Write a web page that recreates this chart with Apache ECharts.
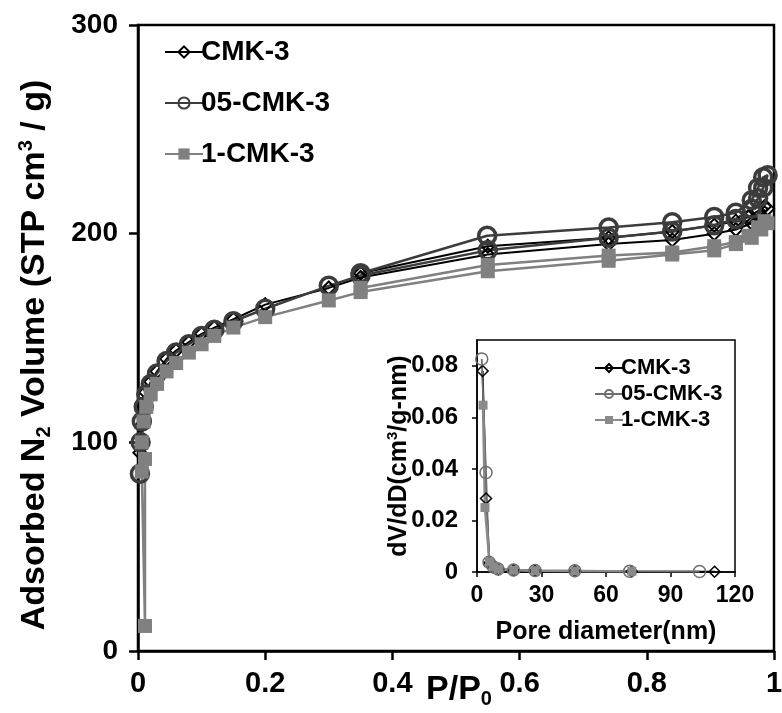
<!DOCTYPE html>
<html>
<head>
<meta charset="utf-8">
<script src="https://cdn.jsdelivr.net/npm/echarts@6/dist/echarts.min.js"></script>
<style>
  html, body { margin: 0; padding: 0; background: #fff; }
  #chart { width: 782px; height: 713px; }
</style>
</head>
<body>
<div id="chart"></div>
<script>
// Sample names
const sampleNames = ['CMK-3', '05-CMK-3', '1-CMK-3'];

// N2 isotherms: [P/P0, adsorbed volume]; adsorption branch then desorption branch
const isoCMK3 = [
  [0.003, 95], [0.005, 108], [0.008, 118], [0.012, 124], [0.02, 129], [0.03, 134],
  [0.045, 140], [0.06, 144], [0.08, 148], [0.1, 152], [0.12, 155], [0.15, 159],
  [0.2, 166], [0.3, 174], [0.35, 179], [0.55, 190], [0.74, 195], [0.84, 197],
  [0.906, 200], [0.94, 202], [0.965, 205], [0.98, 208], [0.99, 212],
  [0.985, 213], [0.975, 211], [0.96, 208], [0.94, 206], [0.906, 204], [0.84, 201],
  [0.74, 198], [0.55, 194], [0.35, 181]
];
const iso05 = [
  [0.003, 85], [0.004, 100], [0.006, 110], [0.009, 117], [0.013, 123], [0.02, 128],
  [0.03, 133], [0.045, 139], [0.06, 143], [0.08, 147], [0.1, 151], [0.12, 154],
  [0.15, 158], [0.2, 164], [0.3, 175], [0.35, 180], [0.55, 192], [0.74, 198],
  [0.84, 201], [0.906, 204], [0.94, 207], [0.965, 212], [0.975, 217], [0.983, 222],
  [0.99, 228], [0.983, 227], [0.975, 222], [0.965, 216], [0.94, 210], [0.906, 208],
  [0.84, 205.5], [0.74, 203], [0.549, 199], [0.35, 181]
];
const iso1 = [
  [0.006, 86], [0.011, 12], [0.011, 92], [0.006, 100], [0.009, 110], [0.013, 117],
  [0.02, 123], [0.03, 128], [0.045, 134], [0.06, 138], [0.08, 143], [0.1, 147],
  [0.12, 151], [0.15, 155], [0.2, 160], [0.3, 168], [0.35, 172], [0.55, 182],
  [0.74, 187], [0.84, 190], [0.906, 192], [0.94, 195], [0.965, 198], [0.98, 202],
  [0.99, 205], [0.985, 206], [0.975, 203], [0.96, 199], [0.94, 196], [0.906, 194],
  [0.84, 191], [0.74, 189.5], [0.55, 185], [0.35, 174]
];

// Pore size distributions: [pore diameter (nm), dV/dD]
const psdCMK3 = [
  [2.6, 0.078], [4.2, 0.0285], [5.8, 0.0035], [7.5, 0.0018], [10, 0.001],
  [17, 0.0007], [27, 0.0005], [45.5, 0.0004], [72, 0.0002], [110.5, 0.0001]
];
const psd05 = [
  [2.2, 0.0826], [4.2, 0.0386], [5.6, 0.0038], [7.5, 0.002], [9.8, 0.0012],
  [17, 0.0008], [27, 0.0006], [45.5, 0.0005], [71, 0.0003], [103.5, 0.0002]
];
const psd1 = [
  [2.8, 0.0647], [3.7, 0.025], [5.8, 0.004], [7.5, 0.002], [10, 0.0011],
  [17, 0.0007], [27, 0.0005], [45.5, 0.0004], [72, 0.0003]
];

// Axis ranges
const mainX = { min: 0, max: 1, interval: 0.2 };
const mainY = { min: 0, max: 300, interval: 100 };
const insetX = { min: 0, max: 120, interval: 30 };
const insetY = { min: 0, max: 0.09, interval: 0.02 };

const FONT = "'Liberation Sans', Arial, Helvetica, sans-serif";
const insetPrefix = 'psd:';
const CLEAR = 'rgba(255,255,255,0)';

const chart = echarts.init(document.getElementById('chart'), null, { renderer: 'canvas' });

function axisCommon(fontSize, margin, lineW, tickLen) {
  return {
    axisLine: { show: true, onZero: false, lineStyle: { color: '#000', width: lineW } },
    axisTick: { show: true, inside: false, length: tickLen, lineStyle: { color: '#000', width: lineW } },
    axisLabel: { color: '#000', fontFamily: FONT, fontWeight: 'bold', fontSize: fontSize, margin: margin },
    splitLine: { show: false },
    nameMoveOverlap: false
  };
}

const mainStyles = [
  { color: '#000000', symbol: 'diamond', fill: CLEAR, size: 13, lw: 2, bw: 2 },
  { color: '#3c3c3c', symbol: 'circle', fill: CLEAR, size: 17, lw: 2.5, bw: 3.5 },
  { color: '#808080', symbol: 'rect', fill: '#808080', size: 14, lw: 2.5, bw: 0 }
];
const insetStyles = [
  { color: '#000000', symbol: 'diamond', fill: CLEAR, size: 11, lw: 2, bw: 1.5 },
  { color: '#6e6e6e', symbol: 'circle', fill: CLEAR, size: 12, lw: 1.8, bw: 1.5 },
  { color: '#8a8a8a', symbol: 'rect', fill: '#8a8a8a', size: 9, lw: 2.5, bw: 0 }
];

function makeSeries(name, data, st, axisIdx) {
  return {
    name: name,
    type: 'line',
    xAxisIndex: axisIdx,
    yAxisIndex: axisIdx,
    data: data,
    symbol: st.symbol,
    symbolSize: st.size,
    showAllSymbol: true,
    smooth: false,
    clip: true,
    animation: false,
    color: st.color,
    lineStyle: { color: st.color, width: st.lw },
    itemStyle: { color: st.fill, borderColor: st.color, borderWidth: st.bw },
    emphasis: { disabled: true }
  };
}

const isoData = [isoCMK3, iso05, iso1];
const psdData = [psdCMK3, psd05, psd1];

const series = [];
sampleNames.forEach((n, i) => series.push(makeSeries(n, isoData[i], mainStyles[i], 0)));
sampleNames.forEach((n, i) => series.push(makeSeries(insetPrefix + n, psdData[i], insetStyles[i], 1)));

const option = {
  animation: false,
  backgroundColor: '#fff',
  grid: [
    { left: 138, right: 8, top: 25, bottom: 62, containLabel: false, outerBoundsMode: 'none',
      show: true, borderColor: '#000', borderWidth: 2.5, backgroundColor: 'transparent' },
    { left: 477, top: 340, width: 258, height: 232, containLabel: false, outerBoundsMode: 'none',
      show: true, borderColor: '#000', borderWidth: 1.5, backgroundColor: '#fff' }
  ],
  legend: [
    {
      data: sampleNames,
      orient: 'vertical',
      left: 159, top: 33,
      itemWidth: 38, itemHeight: 14, itemGap: 23,
      selectedMode: false,
      textStyle: { color: '#000', fontFamily: FONT, fontWeight: 'bold', fontSize: 28, padding: [0, 0, 0, -7] }
    },
    {
      data: sampleNames.map(n => insetPrefix + n),
      formatter: name => name.slice(insetPrefix.length),
      orient: 'vertical',
      left: 589, top: 352,
      itemWidth: 28, itemHeight: 10, itemGap: 4,
      selectedMode: false,
      textStyle: { color: '#000', fontFamily: FONT, fontWeight: 'bold', fontSize: 22, padding: [0, 0, 0, -7] }
    }
  ],
  xAxis: [
    Object.assign(axisCommon(29, 18, 2.5, 9), {
      type: 'value', gridIndex: 0,
      min: mainX.min, max: mainX.max, interval: mainX.interval,
      name: '{a|P/P}{s|0}',
      nameLocation: 'middle', nameGap: 20,
      nameTextStyle: {
        padding: [0, 0, 0, 6],
        rich: {
          a: { fontFamily: FONT, fontWeight: 'bold', fontSize: 34, lineHeight: 38, color: '#000' },
          s: { fontFamily: FONT, fontWeight: 'bold', fontSize: 20, lineHeight: 20, verticalAlign: 'bottom', color: '#000' }
        }
      }
    }),
    Object.assign(axisCommon(23, 12, 1.5, 5), {
      type: 'value', gridIndex: 1,
      min: insetX.min, max: insetX.max, interval: insetX.interval,
      name: 'Pore diameter(nm)',
      nameLocation: 'middle', nameGap: 48,
      nameTextStyle: { color: '#000', fontFamily: FONT, fontWeight: 'bold', fontSize: 25 }
    })
  ],
  yAxis: [
    Object.assign(axisCommon(28, 20, 2.5, 9), {
      type: 'value', gridIndex: 0,
      min: mainY.min, max: mainY.max, interval: mainY.interval,
      name: '{a|Adsorbed N}{s|2}{a| Volume (STP cm}{p|3}{a| / g)}',
      nameLocation: 'middle', nameGap: 84,
      nameTextStyle: {
        padding: [0, 34, 0, 0],
        rich: {
          a: { fontFamily: FONT, fontWeight: 'bold', fontSize: 34, lineHeight: 38, color: '#000' },
          s: { fontFamily: FONT, fontWeight: 'bold', fontSize: 20, lineHeight: 20, verticalAlign: 'bottom', color: '#000' },
          p: { fontFamily: FONT, fontWeight: 'bold', fontSize: 20, lineHeight: 20, verticalAlign: 'top', color: '#000' }
        }
      }
    }),
    Object.assign(axisCommon(24, 19, 1.5, 5), {
      type: 'value', gridIndex: 1,
      min: insetY.min, max: insetY.max, interval: insetY.interval,
      name: '{a|dV/dD(cm}{p|3}{a|/g-nm)}',
      nameLocation: 'middle', nameGap: 64,
      nameTextStyle: {
        rich: {
          a: { fontFamily: FONT, fontWeight: 'bold', fontSize: 25, lineHeight: 28, color: '#000' },
          p: { fontFamily: FONT, fontWeight: 'bold', fontSize: 15, lineHeight: 15, verticalAlign: 'top', color: '#000' }
        }
      }
    })
  ],
  series: series
};
option.yAxis[1].axisLabel.showMaxLabel = false;

chart.setOption(option);
</script>
</body>
</html>
